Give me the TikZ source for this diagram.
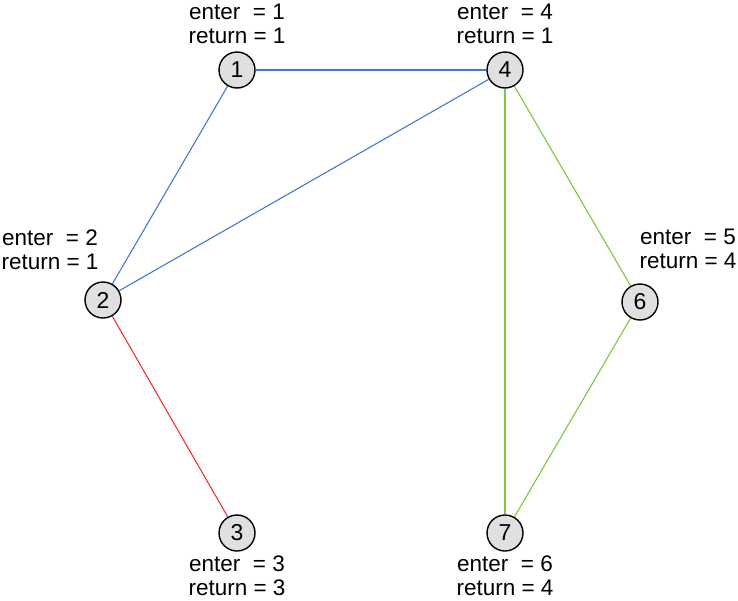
\documentclass[tikz,border=0pt]{standalone}
\usepackage{fontspec}
\setmainfont{Liberation Sans}
\definecolor{eblue}{RGB}{70,120,205}
\definecolor{ered}{RGB}{240,50,50}
\definecolor{egreen}{RGB}{125,200,60}
\begin{document}
\begin{tikzpicture}[x=1pt,y=-1pt,
  vert/.style={circle,draw=black,line width=1.4pt,fill=black!12,minimum size=36pt,inner sep=0pt,font=\fontsize{23}{23}\selectfont},
  lab/.style={align=center,font=\fontsize{22.5}{24}\selectfont,inner sep=0pt},
  edge/.style={line width=1.1pt}]
\useasboundingbox (0,0) rectangle (738,600);
\node[vert] (n1) at (237,70) {1};
\node[vert] (n4) at (505,70) {4};
\node[vert] (n2) at (103,300) {2};
\node[vert] (n6) at (640,302) {6};
\node[vert] (n3) at (237,533) {3};
\node[vert] (n7) at (505,533) {7};
\node[lab] (l1) at (237,24) {enter\ \ = 1\\return = 1};
\node[lab] (l4) at (505,24) {enter\ \ = 4\\return = 1};
\node[lab] (l2) at (50,250) {enter\ \ = 2\\return = 1};
\node[lab] (l6) at (688,249) {enter\ \ = 5\\return = 4};
\node[lab] (l3) at (237,576) {enter\ \ = 3\\return = 3};
\node[lab] (l7) at (505,576) {enter\ \ = 6\\return = 4};
\draw[edge,eblue] (n1) -- (n4);
\draw[edge,eblue] (n1) -- (n2);
\draw[edge,eblue] (n2) -- (n4);
\draw[edge,ered] (n2) -- (n3);
\draw[edge,egreen] (n4) -- (n7);
\draw[edge,egreen] (n4) -- (n6);
\draw[edge,egreen] (n6) -- (n7);
\end{tikzpicture}
\end{document}
